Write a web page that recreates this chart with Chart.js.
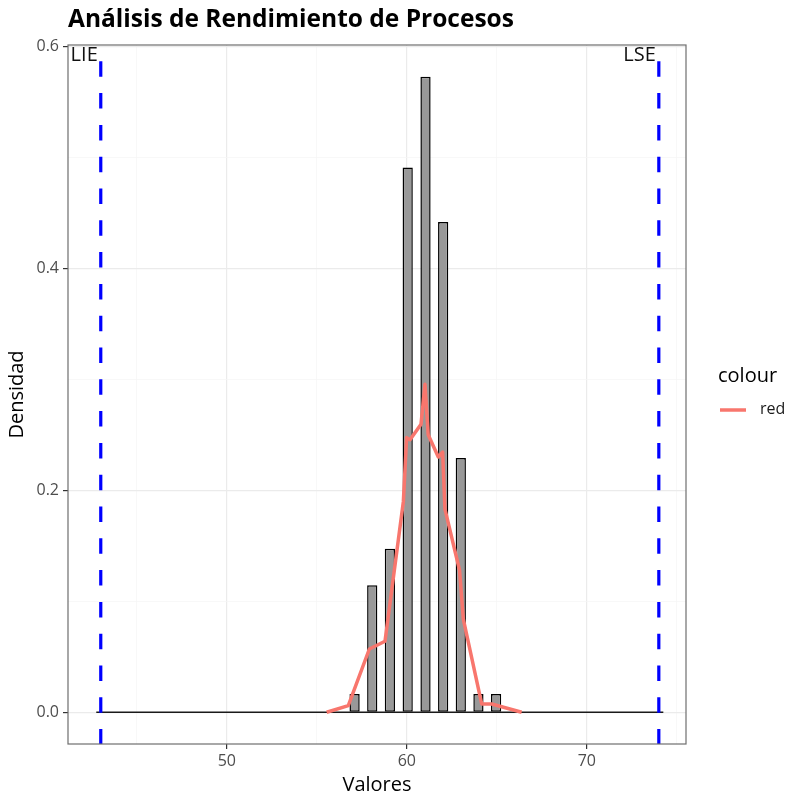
<!DOCTYPE html>
<html><head><meta charset="utf-8">
<script src="https://cdn.jsdelivr.net/npm/chart.js@4.4.0/dist/chart.umd.min.js"></script>
<style>html,body{margin:0;padding:0;background:#fff;} #wrap{width:801px;height:799px;}</style>
</head><body><div id="wrap"><canvas id="c" width="801" height="799"></canvas></div>
<script>
const chartTitle = 'Análisis de Rendimiento de Procesos';
const xTitle = 'Valores';
const yTitle = 'Densidad';
const legendTitle = 'colour';
const legendLabel = 'red';
const LIE = 43;
const LSE = 74;
const limitLabels = ['LIE', 'LSE'];
const binCenters = [57.1, 58.08, 59.06, 60.05, 61.04, 62.02, 63.0, 63.98, 64.96];
const binDensity = [0.0164, 0.1145, 0.1473, 0.4909, 0.5727, 0.4418, 0.2291, 0.0164, 0.0164];
const histRange = [42.75, 74.25];
const curveX = [55.55, 56.75, 57.92, 58.79, 59.81, 59.99, 60.18, 60.79, 61.01, 61.19, 61.75, 61.99, 62.12, 62.93, 63.14, 64.16, 64.72, 66.38];
const curveY = [0, 0.006, 0.057, 0.064, 0.19, 0.2475, 0.2455, 0.2595, 0.2955, 0.25, 0.23, 0.2345, 0.183, 0.128, 0.084, 0.0075, 0.0075, 0];
const xMajorTicks = [50, 60, 70];
const xMinorTicks = [45, 55, 65, 75];
const yMajorTicks = [0, 0.2, 0.4, 0.6];
const yMinorTicks = [0.1, 0.3, 0.5];
const xLimits = [41.18, 75.51];
const yLimits = [-0.0286, 0.6013];

const FONT = '"Open Sans", "Noto Sans", sans-serif';
const isMajor = (arr, v) => arr.some(m => Math.abs(m - v) < 1e-9);

const overlay = {
  id: 'overlay',
  afterDatasetsDraw(chart) {
    const {ctx, chartArea: a, scales: {x}} = chart;
    ctx.save();
    ctx.fillStyle = '#111';
    ctx.font = '20px ' + FONT;
    ctx.textAlign = 'right';
    ctx.textBaseline = 'alphabetic';
    [LIE, LSE].forEach((v, i) => {
      ctx.fillText(limitLabels[i], x.getPixelForValue(v) - 3, 61);
    });
    ctx.strokeStyle = '#6e6e6e';
    ctx.lineWidth = 1.2;
    ctx.strokeRect(a.left, a.top, a.right - a.left, a.bottom - a.top);
    ctx.restore();
  },
  afterDraw(chart) {
    const {ctx, chartArea: a} = chart;
    ctx.save();
    ctx.fillStyle = '#000';
    ctx.textBaseline = 'middle';
    ctx.font = 'bold 24.5px ' + FONT;
    ctx.textAlign = 'left';
    ctx.fillText(chartTitle, a.left, 20);
    ctx.font = '20px ' + FONT;
    ctx.textAlign = 'center';
    ctx.fillText(xTitle, (a.left + a.right) / 2, 785);
    ctx.save();
    ctx.translate(17, (a.top + a.bottom) / 2);
    ctx.rotate(-Math.PI / 2);
    ctx.fillText(yTitle, 0, 0);
    ctx.restore();
    ctx.textAlign = 'left';
    ctx.font = '20px ' + FONT;
    ctx.fillText(legendTitle, 718, 376);
    ctx.strokeStyle = '#F8766D';
    ctx.lineWidth = 3.5;
    ctx.beginPath();
    ctx.moveTo(720, 410);
    ctx.lineTo(746, 410);
    ctx.stroke();
    ctx.font = '16px ' + FONT;
    ctx.fillStyle = '#1a1a1a';
    ctx.fillText(legendLabel, 760, 409);
    ctx.restore();
  }
};

const gridOpts = (majors) => ({
  offset: false,
  color: c => (c.tick && isMajor(majors, c.tick.value)) ? '#EBEBEB' : '#F5F5F5',
  lineWidth: c => (c.tick && isMajor(majors, c.tick.value)) ? 1.2 : 0.7,
  tickColor: c => (c.tick && isMajor(majors, c.tick.value)) ? '#333333' : 'rgba(0,0,0,0)',
  tickLength: 5,
  drawTicks: true
});

new Chart(document.getElementById('c'), {
  type: 'bar',
  data: {
    datasets: [
      {
        type: 'bar',
        label: 'hist',
        data: binCenters.map((v, i) => ({x: v, y: binDensity[i]})),
        backgroundColor: '#999999',
        borderColor: '#000000',
        borderWidth: 1.5,
        borderSkipped: false,
        barPercentage: 0.58,
        categoryPercentage: 1,
        grouped: false,
        order: 4
      },
      {
        type: 'line',
        label: 'base',
        data: histRange.map(v => ({x: v, y: 0})),
        borderColor: '#1a1a1a',
        borderWidth: 1.3,
        pointRadius: 0,
        order: 3
      },
      {
        type: 'line',
        label: 'red',
        data: curveX.map((v, i) => ({x: v, y: curveY[i]})),
        borderColor: '#F8766D',
        borderWidth: 3.5,
        pointRadius: 0,
        tension: 0,
        borderJoinStyle: 'round',
        order: 2
      },
      {
        type: 'line',
        label: 'LIE',
        data: [{x: LIE, y: yLimits[1]}, {x: LIE, y: yLimits[0]}],
        borderColor: '#0000FF',
        borderWidth: 3.2,
        borderDash: [15.5, 16.3],
        borderDashOffset: 15.5,
        pointRadius: 0,
        order: 1
      },
      {
        type: 'line',
        label: 'LSE',
        data: [{x: LSE, y: yLimits[1]}, {x: LSE, y: yLimits[0]}],
        borderColor: '#0000FF',
        borderWidth: 3.2,
        borderDash: [15.5, 16.3],
        borderDashOffset: 15.5,
        pointRadius: 0,
        order: 1
      }
    ]
  },
  options: {
    responsive: false,
    animation: false,
    devicePixelRatio: 1,
    layout: {padding: {top: 45, right: 115, left: 0, bottom: 0}},
    plugins: {legend: {display: false}, tooltip: {enabled: false}, title: {display: false}},
    scales: {
      x: {
        type: 'linear',
        min: xLimits[0],
        max: xLimits[1],
        offset: false,
        afterBuildTicks: s => { s.ticks = [...xMinorTicks, ...xMajorTicks].sort((a, b) => a - b).map(v => ({value: v})); },
        afterFit: s => { s.height = 55; },
        grid: gridOpts(xMajorTicks),
        border: {display: false},
        ticks: {
          autoSkip: false, maxRotation: 0, padding: 3,
          color: '#4D4D4D', font: {family: FONT, size: 16},
          callback: v => isMajor(xMajorTicks, v) ? String(v) : ''
        }
      },
      y: {
        type: 'linear',
        min: yLimits[0],
        max: yLimits[1],
        afterBuildTicks: s => { s.ticks = [...yMinorTicks, ...yMajorTicks].sort((a, b) => a - b).map(v => ({value: v})); },
        afterFit: s => { s.width = 68; },
        grid: gridOpts(yMajorTicks),
        border: {display: false},
        ticks: {
          autoSkip: false, padding: 4,
          color: '#4D4D4D', font: {family: FONT, size: 16},
          callback: v => isMajor(yMajorTicks, v) ? v.toFixed(1) : ''
        }
      }
    }
  },
  plugins: [overlay]
});
</script>
</body></html>
